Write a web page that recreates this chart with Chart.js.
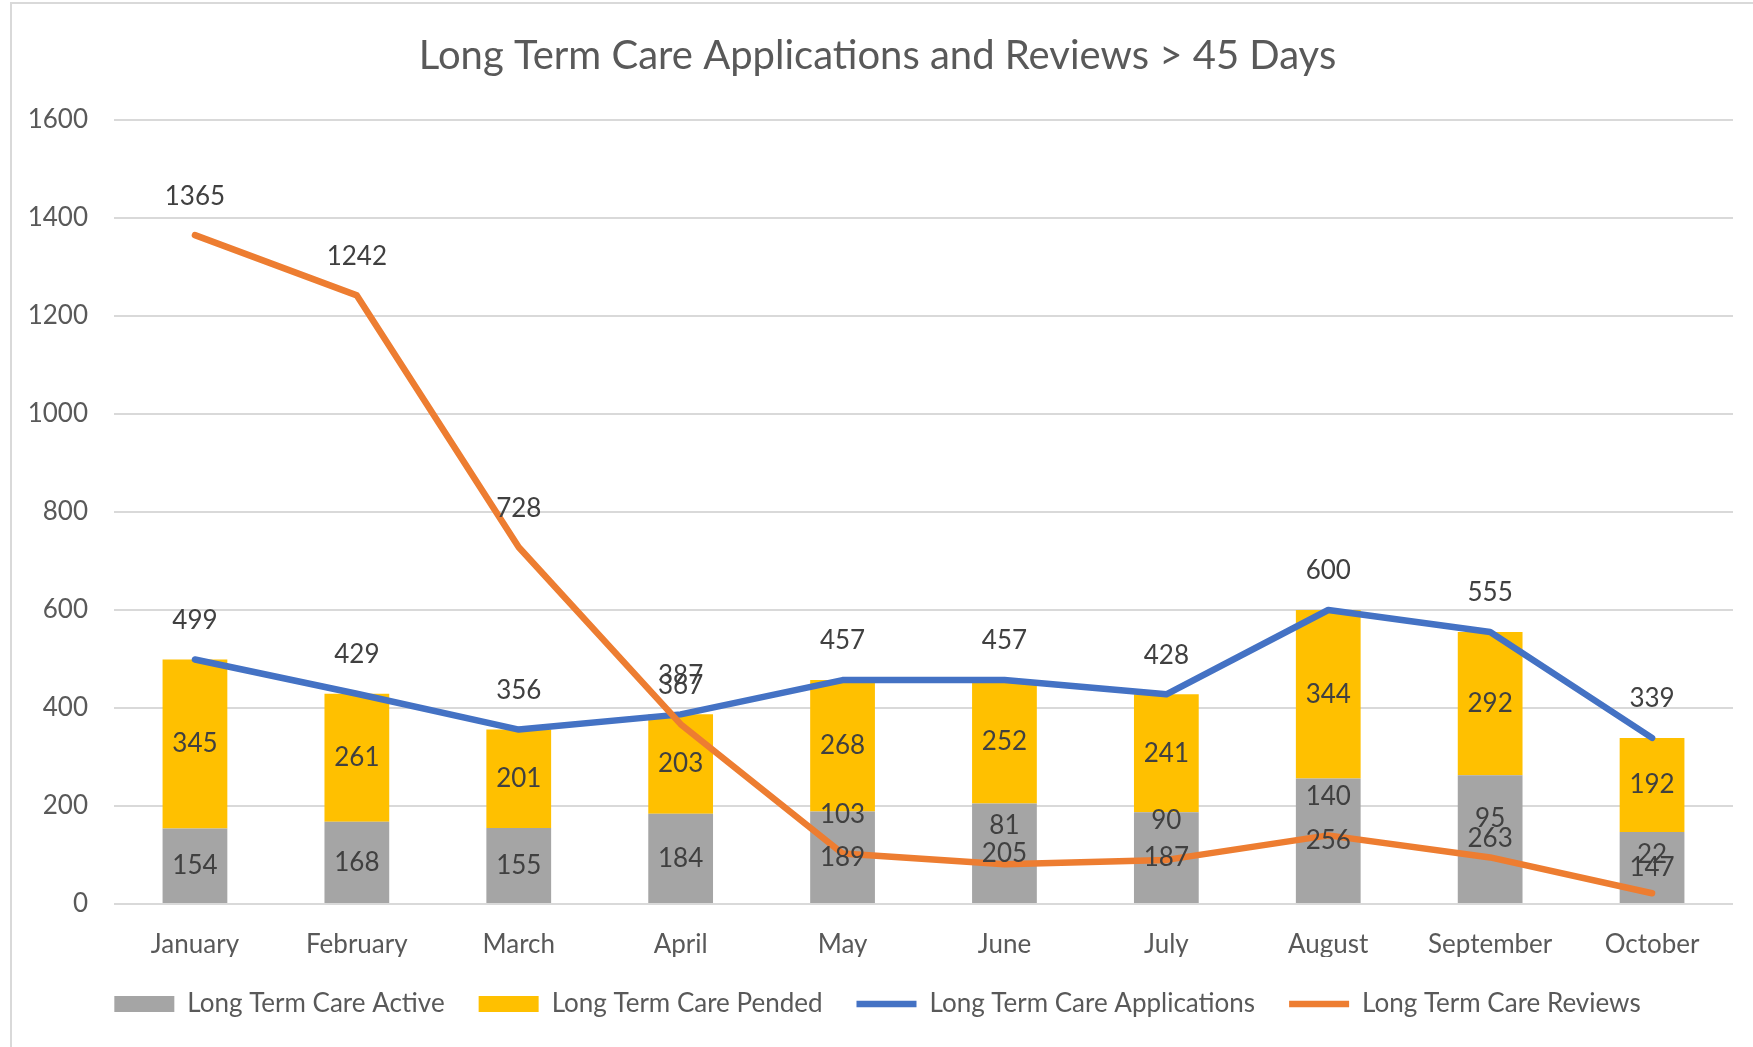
<!DOCTYPE html>
<html>
<head>
<meta charset="utf-8">
<script src="https://cdn.jsdelivr.net/npm/chart.js@4"></script>
<style>
  html, body { margin: 0; padding: 0; background: #fff; }
  #wrap { position: relative; width: 1753px; height: 1047px; overflow: hidden; }
  #frame { position: absolute; left: 10px; top: 2px; width: 1800px; height: 1100px; border: 2px solid #d9d9d9; box-sizing: border-box; }
  #chart-box { position: absolute; left: 0; top: 0; width: 1753px; height: 1047px; }
</style>
</head>
<body>
<div id="wrap">
  <div id="frame"></div>
  <div id="chart-box"><canvas id="chart-ltc"></canvas></div>
</div>
<script>
const months = ["January", "February", "March", "April", "May", "June", "July", "August", "September", "October"];
const activeCounts = [154, 168, 155, 184, 189, 205, 187, 256, 263, 147];
const pendedCounts = [345, 261, 201, 203, 268, 252, 241, 344, 292, 192];
const applicationCounts = [499, 429, 356, 387, 457, 457, 428, 600, 555, 339];
const reviewCounts = [1365, 1242, 728, 367, 103, 81, 90, 140, 95, 22];

const FONT = "Lato, 'Open Sans', sans-serif";
const TEXT = "#595959";
const LABEL = "#404040";

// excel style value labels: centered in bar segments, above line points
const valueLabels = {
  id: "valueLabels",
  afterDatasetsDraw(chart) {
    const { ctx } = chart;
    ctx.save();
    ctx.font = `26px ${FONT}`;
    ctx.fillStyle = LABEL;
    ctx.textAlign = "center";
    ctx.textBaseline = "middle";
    chart.data.datasets.forEach((ds, i) => {
      const meta = chart.getDatasetMeta(i);
      meta.data.forEach((el, j) => {
        const y = ds.type === "bar" ? (el.y + el.base) / 2 : el.y - 39;
        ctx.fillText(String(ds.data[j]), el.x, y);
      });
    });
    ctx.restore();
  },
};

new Chart(document.getElementById("chart-ltc"), {
  data: {
    labels: months,
    datasets: [
      {
        type: "bar",
        label: "Long Term Care Active",
        data: activeCounts,
        backgroundColor: "#a5a5a5",
        stack: "bars",
        order: 2,
        pointStyle: "rect",
        barPercentage: 0.4,
        categoryPercentage: 1,
      },
      {
        type: "bar",
        label: "Long Term Care Pended",
        data: pendedCounts,
        backgroundColor: "#ffc000",
        stack: "bars",
        order: 2,
        pointStyle: "rect",
        barPercentage: 0.4,
        categoryPercentage: 1,
      },
      {
        type: "line",
        label: "Long Term Care Applications",
        data: applicationCounts,
        borderColor: "#4472c4",
        backgroundColor: "#4472c4",
        borderWidth: 6.5,
        borderCapStyle: "round",
        borderJoinStyle: "round",
        pointRadius: 0,
        pointStyle: "line",
        stack: "apps",
        order: 1,
      },
      {
        type: "line",
        label: "Long Term Care Reviews",
        data: reviewCounts,
        borderColor: "#ed7d31",
        backgroundColor: "#ed7d31",
        borderWidth: 6.5,
        borderCapStyle: "round",
        borderJoinStyle: "round",
        pointRadius: 0,
        pointStyle: "line",
        stack: "reviews",
        order: 0,
      },
    ],
  },
  options: {
    responsive: true,
    maintainAspectRatio: false,
    animation: false,
    layout: { padding: { top: 18, left: 22, right: 20, bottom: 20 } },
    plugins: {
      title: {
        display: true,
        text: "Long Term Care Applications and Reviews > 45 Days",
        color: TEXT,
        font: { family: FONT, size: 40, weight: "normal" },
        padding: { top: 14, bottom: 40 },
      },
      legend: {
        position: "bottom",
        labels: {
          usePointStyle: true,
          pointStyleWidth: 60,
          boxHeight: 16,
          padding: 34,
          color: TEXT,
          font: { family: FONT, size: 26 },
          sort: (a, b) => a.datasetIndex - b.datasetIndex,
        },
      },
      tooltip: { enabled: false },
    },
    scales: {
      x: {
        stacked: true,
        grid: { display: false },
        border: { display: false },
        afterFit: (scale) => { scale.height = 53; },
        ticks: { color: TEXT, font: { family: FONT, size: 26 }, padding: 17 },
      },
      y: {
        stacked: true,
        min: 0,
        max: 1600,
        afterFit: (scale) => { scale.width = 92; },
        ticks: {
          stepSize: 200,
          color: TEXT,
          font: { family: FONT, size: 26 },
          padding: 26,
          callback: (value) => String(value),
        },
        grid: { color: "#d9d9d9", lineWidth: 2, drawTicks: false },
        border: { display: false },
      },
    },
  },
  plugins: [valueLabels],
});
</script>
</body>
</html>
